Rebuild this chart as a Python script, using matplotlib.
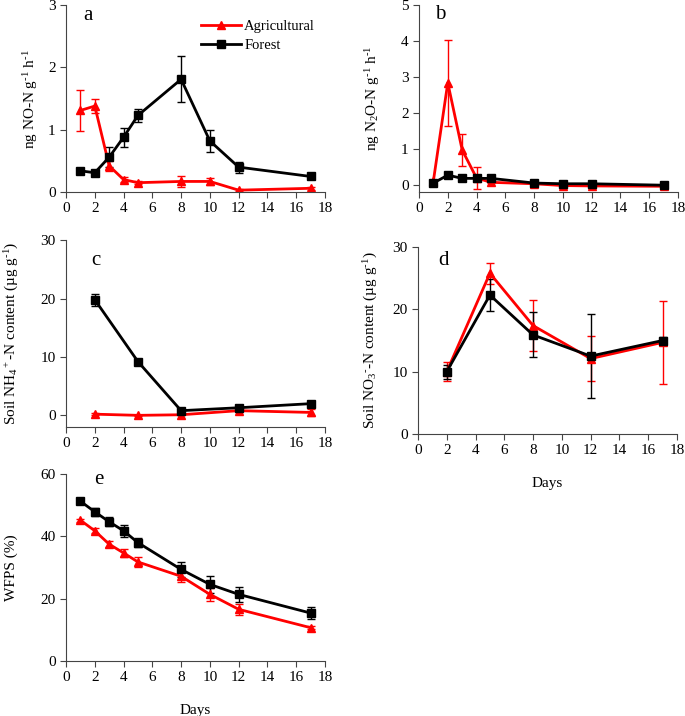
import matplotlib
matplotlib.use("Agg")
import matplotlib.pyplot as plt

plt.rcParams['font.family'] = ['Liberation Serif', 'DejaVu Serif']
plt.rcParams['mathtext.fontset'] = 'custom'
plt.rcParams['mathtext.rm'] = 'Liberation Serif'
plt.rcParams['mathtext.it'] = 'Liberation Serif:italic'
plt.rcParams['font.size'] = 11

# days
days_all = [1, 2, 3, 4, 5, 8, 10, 12, 17]
days_soil = [2, 5, 8, 12, 17]

# a: NO flux
no_agri = [1.31, 1.38, 0.42, 0.20, 0.15, 0.17, 0.17, 0.03, 0.06]
no_agri_err = [0.33, 0.11, 0.08, 0.04, 0.02, 0.09, 0.05, 0.02, 0.02]
no_for = [0.34, 0.31, 0.56, 0.88, 1.23, 1.81, 0.82, 0.40, 0.25]
no_for_err = [0.03, 0.05, 0.16, 0.15, 0.11, 0.37, 0.18, 0.09, 0.02]

# b: N2O flux
n2o_agri = [0.11, 2.84, 0.97, 0.19, 0.07, 0.03, -0.02, -0.03, -0.04]
n2o_agri_err = [0.03, 1.2, 0.45, 0.3, 0.02, 0.02, 0.02, 0.02, 0.02]
n2o_for = [0.05, 0.27, 0.18, 0.18, 0.18, 0.05, 0.03, 0.03, -0.01]
n2o_for_err = [0.02, 0.03, 0.08, 0.05, 0.03, 0.02, 0.02, 0.02, 0.02]

# c: NH4
nh4_agri = [0.2, 0.0, 0.1, 0.8, 0.5]
nh4_agri_err = [0.2, 0.1, 0.1, 0.3, 0.6]
nh4_for = [19.8, 9.2, 0.8, 1.3, 2.0]
nh4_for_err = [1.0, 0.3, 0.2, 0.3, 0.3]

# d: NO3
no3_agri = [10.0, 25.8, 17.4, 12.1, 14.7]
no3_agri_err = [1.5, 1.7, 4.1, 3.6, 6.7]
no3_for = [10.0, 22.3, 15.9, 12.5, 15.0]
no3_for_err = [1.1, 2.5, 3.6, 6.8, 0.5]

# e: WFPS
wfps_agri = [45.2, 41.8, 37.5, 34.7, 31.8, 27.2, 21.4, 16.6, 10.7]
wfps_agri_err = [0.5, 0.8, 1.0, 1.2, 1.5, 1.8, 2.0, 1.8, 0.5]
wfps_for = [51.3, 47.9, 44.7, 41.8, 38.0, 29.4, 24.6, 21.4, 15.4]
wfps_for_err = [0.8, 1.2, 1.5, 2.0, 1.5, 2.5, 2.7, 2.5, 2.0]

fig = plt.figure(figsize=(6.85, 7.16), dpi=100)

W = 0.378
H = 0.261
ax_a = fig.add_axes([0.0964, 0.7318, W, H])
ax_b = fig.add_axes([0.6117, 0.7318, W, H])
ax_c = fig.add_axes([0.0964, 0.4036, W, H])
ax_d = fig.add_axes([0.6102, 0.3939, W, H])
ax_e = fig.add_axes([0.0964, 0.0768, W, H])

HY = '\u2010'  # plain hyphen for the superscripts


def draw(ax, x, agri, agri_err, forest, forest_err, ylim, yticks, ylabel, pad, letter, lx, ly):
    ea = ax.errorbar(x, agri, yerr=agri_err, color='#ff0000', marker='^', ms=6, lw=2,
                     capsize=3, elinewidth=1)
    ef = ax.errorbar(x, forest, yerr=forest_err, color='black', marker='s', ms=6, lw=2,
                     capsize=3, elinewidth=1)
    ax.set_xlim(0, 18)
    ax.set_xticks(range(0, 19, 2))
    ax.set_ylim(*ylim)
    ax.set_yticks(yticks)
    ax.set_ylabel(ylabel, labelpad=pad)
    for s in ['top', 'right']:
        ax.spines[s].set_visible(False)
    for s in ['left', 'bottom']:
        ax.spines[s].set_color('#444444')
    ax.tick_params(direction='out', length=4, color='#444444')
    ax.text(lx, ly, letter, transform=ax.transAxes, fontsize=15, va='center')
    return ea[0], ef[0]


ha, hf = draw(ax_a, days_all, no_agri, no_agri_err, no_for, no_for_err, (0, 3), [0, 1, 2, 3],
              'ng NO-N g$^{' + HY + '1}$ h$^{' + HY + '1}$', 6, 'a', 0.066, 0.946)
ax_a.legend([ha, hf], ['Agricultural', 'Forest'], loc='upper left',
            bbox_to_anchor=(0.5, 0.955), frameon=False, handlelength=2.7,
            handletextpad=0.25, fontsize=10.5, borderaxespad=0.0, labelspacing=0.45)

draw(ax_b, days_all, n2o_agri, n2o_agri_err, n2o_for, n2o_for_err, (-0.2, 5), range(0, 6),
     'ng N$_2$O-N g$^{' + HY + '1}$ h$^{' + HY + '1}$', 14, 'b', 0.06, 0.95)

draw(ax_c, days_soil, nh4_agri, nh4_agri_err, nh4_for, nh4_for_err, (-2, 30), [0, 10, 20, 30],
     'Soil NH$_4$$^+$-N content (µg g$^{' + HY + '1}$)', 14, 'c', 0.096, 0.89)

draw(ax_d, days_soil, no3_agri, no3_agri_err, no3_for, no3_for_err, (0, 30), [0, 10, 20, 30],
     'Soil NO$_3$$^{' + HY + '}$-N content (µg g$^{' + HY + '1}$)', 9, 'd', 0.077, 0.93)
ax_d.set_xlabel('Days', labelpad=14)

draw(ax_e, days_all, wfps_agri, wfps_agri_err, wfps_for, wfps_for_err, (0, 60), [0, 20, 40, 60],
     'WFPS (%)', 16, 'e', 0.108, 0.97)
ax_e.set_xlabel('Days', labelpad=14)

fig.savefig('out.png', dpi=100)
